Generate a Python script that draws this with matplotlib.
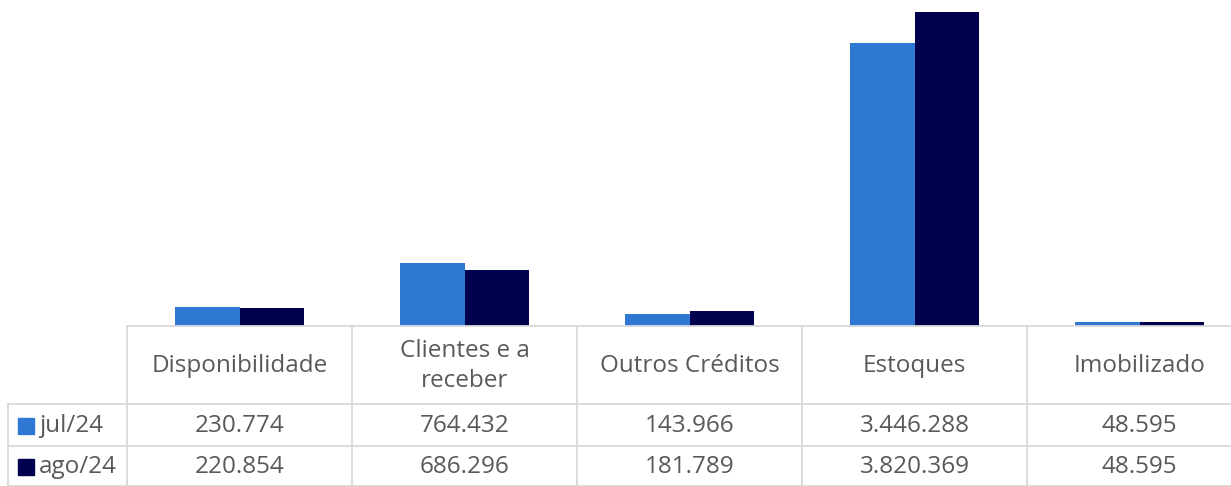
import matplotlib.pyplot as plt
import numpy as np

categories = ["Disponibilidade", "Clientes e a\nreceber", "Outros Créditos", "Estoques", "Imobilizado"]
series_names = ["jul/24", "ago/24"]
jul_values = [230774, 764432, 143966, 3446288, 48595]
ago_values = [220854, 686296, 181789, 3820369, 48595]
series_colors = ["#2E78D3", "#00004F"]

plt.rcParams['font.family'] = ['Open Sans', 'DejaVu Sans']
text_color = "#595959"
grid_color = "#D9D9D9"

W, H = 1231, 486
fig = plt.figure(figsize=(W / 100, H / 100), dpi=100)

# pixel layout (from reference)
left_px, axis_px, col_w = 127, 326, 225
ax = fig.add_axes([left_px / W, (H - axis_px) / H, 5 * col_w / W, axis_px / H])

x = np.arange(len(categories))
bw = 0.287
ax.bar(x - bw / 2, jul_values, bw, color=series_colors[0])
ax.bar(x + bw / 2, ago_values, bw, color=series_colors[1])
ax.set_xlim(-0.5, len(categories) - 0.5)
ax.set_ylim(0, 3.97e6)
ax.axis("off")
ax.axhline(0, color=grid_color, lw=1.3, clip_on=False)

# data table underneath
tab = fig.add_axes([left_px / W, 0, 5 * col_w / W, (H - axis_px) / H])
tab.set_xlim(-0.5, len(categories) - 0.5)
tab.set_ylim(H - axis_px, 0)
tab.axis("off")


def px2x(p):
    return (p - left_px) / col_w - 0.5


row_lines = [78, 120, 160]
for i in range(len(categories) + 1):
    tab.plot([i - 0.5, i - 0.5], [0, 160], color=grid_color, lw=1.3, clip_on=False)
for yl in row_lines:
    tab.plot([px2x(8), len(categories) - 0.5], [yl, yl], color=grid_color, lw=1.3, clip_on=False)
tab.plot([px2x(8), px2x(8)], [78, 160], color=grid_color, lw=1.3, clip_on=False)


def fmt(v):
    return f"{v:,}".replace(",", ".")


fs = 17.5
for i, c in enumerate(categories):
    tab.text(i, 40, c, ha="center", va="center", fontsize=fs, color=text_color, linespacing=1.32)
    tab.text(i, 100, fmt(jul_values[i]), ha="center", va="center", fontsize=fs, color=text_color)
    tab.text(i, 141, fmt(ago_values[i]), ha="center", va="center", fontsize=fs, color=text_color)

for name, col, yc in zip(series_names, series_colors, [100, 141]):
    tab.plot([px2x(26)], [yc], marker="s", markersize=11.5, color=col, clip_on=False)
    tab.text(px2x(39), yc, name, ha="left", va="center", fontsize=fs, color=text_color, clip_on=False)

fig.savefig("out.png", dpi=100)
